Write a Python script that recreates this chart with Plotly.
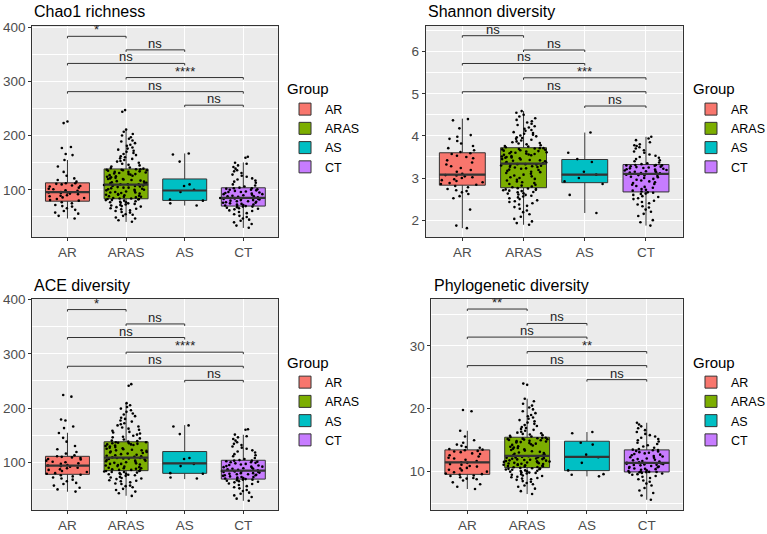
import plotly.graph_objects as go

GROUPS = ["AR", "ARAS", "AS", "CT"]
GROUP_COLORS = ["#F8766D", "#7CAE00", "#00BFC4", "#C77CFF"]
PANEL_TITLES = ["Chao1 richness", "Shannon diversity", "ACE diversity", "Phylogenetic diversity"]
COMPARISONS = [("AR", "ARAS"), ("ARAS", "AS"), ("AR", "AS"), ("ARAS", "CT"), ("AR", "CT"), ("AS", "CT")]

# ---------------- Chao1 ----------------
CHAO1_Q1 = [79, 83.5, 80.4, 70]
CHAO1_MEDIAN = [95.6, 109.7, 98.7, 85.3]
CHAO1_Q3 = [112.8, 138.5, 120, 103.7]
CHAO1_LOW = [47, 40.7, 71, 29.7]
CHAO1_HIGH = [155, 211, 167, 150.5]
CHAO1_SIG = ["*", "ns", "ns", "****", "ns", "ns"]
CHAO1_SIG_Y = [383, 358, 333, 307, 281, 256]
CHAO1_AR = [47, 52, 56, 58, 61, 63, 66, 69, 70, 72, 75, 77, 80, 81, 83, 85, 86, 88, 89, 90, 92, 93, 94, 95, 95,
            96, 98, 99, 101, 102, 104, 106, 107, 108, 110, 111, 112, 112, 115, 118, 121, 126, 133, 143, 155,
            164, 166, 177, 179, 223, 226]
CHAO1_ARAS = [41, 44, 47, 49, 52, 54, 55, 58, 59, 61, 62, 64, 65, 66, 68, 69, 70, 71, 72, 73, 74, 75, 76, 77, 77,
              78, 79, 80, 81, 81, 82, 83, 83, 84, 84, 85, 86, 87, 87, 88, 89, 90, 91, 91, 92, 93, 94, 95, 95, 96,
              97, 98, 99, 100, 100, 101, 102, 103, 104, 104, 105, 106, 107, 107, 108, 109, 109, 110, 110, 110,
              111, 112, 113, 114, 115, 116, 117, 118, 119, 120, 120, 121, 122, 123, 124, 125, 126, 127, 128, 129,
              129, 130, 131, 132, 133, 133, 134, 135, 136, 136, 137, 137, 138, 138, 139, 140, 141, 143, 145, 146,
              148, 150, 152, 153, 155, 157, 158, 160, 162, 164, 166, 168, 170, 172, 174, 176, 178, 181, 183, 186,
              189, 191, 194, 197, 200, 203, 207, 211, 244, 247]
CHAO1_AS = [71, 75, 80, 82, 96, 100, 107, 110, 152, 165, 167]
CHAO1_CT = [30, 34, 37, 40, 43, 45, 47, 50, 52, 55, 57, 59, 61, 62, 64, 65, 66, 67, 68, 69, 69, 70,
            70, 71, 72, 73, 73, 74, 75, 76, 76, 77, 78, 79, 79, 80, 81, 81, 82, 83, 83, 84, 84, 85, 85,
            86, 87, 88, 88, 89, 90, 91, 92, 92, 93, 94, 95, 96, 96, 97, 98, 99, 100, 100, 101, 102, 103, 103,
            104, 106, 108, 110, 113, 115, 117, 119, 121, 124, 126, 128, 131, 134, 136, 139, 142, 145, 148, 150,
            159, 161]

# ---------------- Shannon ----------------
SHANNON_Q1 = [2.83, 2.77, 2.89, 2.67]
SHANNON_MEDIAN = [3.08, 3.34, 3.08, 3.10]
SHANNON_Q3 = [3.60, 3.72, 3.44, 3.32]
SHANNON_LOW = [1.81, 1.89, 2.17, 1.87]
SHANNON_HIGH = [4.41, 4.59, 4.08, 3.98]
SHANNON_SIG = ["ns", "ns", "ns", "***", "ns", "ns"]
SHANNON_SIG_Y = [6.38, 6.04, 5.72, 5.38, 5.05, 4.71]
SHANNON_AR = [1.81, 1.87, 2.25, 2.52, 2.57, 2.62, 2.66, 2.69, 2.71, 2.74, 2.78, 2.81, 2.84, 2.86, 2.88, 2.9,
              2.93, 2.95, 2.97, 3.0, 3.02, 3.04, 3.06, 3.07, 3.1, 3.15, 3.19, 3.24, 3.28, 3.32, 3.37, 3.42,
              3.47, 3.5, 3.53, 3.57, 3.59, 3.62, 3.66, 3.71, 3.76, 3.82, 3.88, 3.93, 3.98, 4.02, 4.18, 4.37, 4.4]
SHANNON_ARAS = [1.89, 1.93, 1.97, 2.03, 2.08, 2.14, 2.19, 2.23, 2.27, 2.31, 2.34, 2.37, 2.4, 2.43, 2.45, 2.47,
                2.5, 2.52, 2.54, 2.56, 2.58, 2.6, 2.61, 2.63, 2.64, 2.66, 2.67, 2.69, 2.7, 2.71, 2.72, 2.73,
                2.74, 2.75, 2.76, 2.78, 2.8, 2.82, 2.84, 2.86, 2.88, 2.9, 2.92, 2.94, 2.96, 2.98, 3.0, 3.02,
                3.04, 3.06, 3.08, 3.1, 3.12, 3.14, 3.15, 3.17, 3.19, 3.2, 3.22, 3.23, 3.25, 3.26, 3.27, 3.28,
                3.29, 3.3, 3.31, 3.32, 3.33, 3.33, 3.35, 3.36, 3.37, 3.38, 3.4, 3.41, 3.42, 3.43, 3.44, 3.45,
                3.47, 3.48, 3.49, 3.5, 3.51, 3.52, 3.54, 3.55, 3.56, 3.57, 3.58, 3.59, 3.6, 3.61, 3.62, 3.63,
                3.64, 3.65, 3.66, 3.67, 3.68, 3.69, 3.7, 3.71, 3.71, 3.73, 3.75, 3.76, 3.78, 3.8, 3.82, 3.83,
                3.85, 3.87, 3.89, 3.91, 3.93, 3.95, 3.97, 3.99, 4.01, 4.03, 4.05, 4.07, 4.09, 4.12, 4.14, 4.17,
                4.2, 4.23, 4.26, 4.29, 4.32, 4.35, 4.38, 4.42, 4.46, 4.5, 4.55, 4.59]
SHANNON_AS = [2.17, 2.6, 2.86, 2.92, 3.0, 3.08, 3.15, 3.38, 3.45, 3.6, 4.08]
SHANNON_CT = [1.87, 1.95, 2.0, 2.1, 2.15, 2.2, 2.25, 2.3, 2.33, 2.37, 2.4, 2.43, 2.46, 2.5, 2.52, 2.55, 2.57,
              2.6, 2.62, 2.63, 2.65, 2.66, 2.68, 2.7, 2.72, 2.74, 2.77, 2.79, 2.81, 2.84, 2.86, 2.88, 2.9, 2.92,
              2.94, 2.96, 2.98, 3.0, 3.02, 3.03, 3.05, 3.06, 3.07, 3.08, 3.09, 3.11, 3.12, 3.13, 3.14, 3.15,
              3.16, 3.17, 3.18, 3.19, 3.2, 3.21, 3.22, 3.23, 3.24, 3.25, 3.26, 3.27, 3.28, 3.29, 3.3, 3.3, 3.31,
              3.31, 3.33, 3.35, 3.37, 3.4, 3.42, 3.45, 3.48, 3.5, 3.53, 3.56, 3.6, 3.63, 3.66, 3.7, 3.73, 3.76,
              3.78, 3.8, 3.85, 3.9, 3.94, 3.98]

# ---------------- ACE ----------------
ACE_Q1 = [77.8, 84.6, 79.6, 69]
ACE_MEDIAN = [94, 108.7, 98, 84.6]
ACE_Q3 = [111, 137.8, 119.8, 103.7]
ACE_LOW = [45.7, 38.3, 69, 29]
ACE_HIGH = [154.4, 208.7, 168.5, 150.7]
ACE_SIG = ["*", "ns", "ns", "****", "ns", "ns"]
ACE_SIG_Y = [381.5, 355, 330, 303, 277, 251]
ACE_AR = [46, 50, 53, 57, 60, 62, 65, 68, 70, 72, 74, 76, 77, 79, 80, 82, 84, 86, 87, 89, 90, 92, 93, 94,
          95, 97, 98, 100, 101, 103, 105, 106, 108, 109, 110, 111, 113, 116, 119, 124, 130, 138, 145, 154,
          163, 166, 177, 179, 221, 224]
ACE_ARAS = [38, 43, 46, 49, 51, 54, 56, 57, 60, 61, 63, 65, 66, 67, 69, 70, 71, 72, 73, 75, 76, 77, 78, 78,
            79, 80, 81, 82, 82, 83, 84, 84, 85, 86, 86, 87, 88, 89, 89, 90, 91, 92, 93, 94, 95, 96, 97, 97, 98,
            99, 100, 101, 102, 103, 103, 104, 105, 106, 107, 107, 108, 108, 109, 110, 111, 112, 113, 114, 115,
            116, 117, 118, 119, 120, 121, 122, 122, 123, 124, 125, 126, 127, 128, 129, 130, 131, 132, 133, 133,
            134, 135, 135, 136, 137, 137, 138, 139, 140, 142, 144, 146, 147, 149, 151, 153, 155, 156, 158, 160,
            162, 164, 166, 168, 170, 172, 175, 177, 180, 182, 185, 188, 190, 193, 196, 199, 202, 205, 209, 241,
            244]
ACE_AS = [70, 72, 79, 80, 93, 97, 106, 108, 152, 166, 168]
ACE_CT = [29, 33, 36, 39, 42, 44, 47, 49, 52, 54, 56, 58, 60, 61, 63, 64, 65, 66, 67, 68, 68, 69,
          69, 70, 71, 72, 73, 73, 74, 75, 76, 76, 77, 78, 78, 79, 80, 80, 81, 82, 82, 83, 83, 84, 84,
          85, 86, 87, 88, 88, 89, 90, 91, 92, 92, 93, 94, 95, 96, 97, 98, 99, 100, 100, 101, 102, 103, 103,
          104, 106, 108, 111, 113, 115, 118, 120, 122, 125, 127, 129, 132, 134, 137, 140, 143, 146, 148, 151,
          160, 161]

# ---------------- Phylogenetic ----------------
PHYLO_Q1 = [9.57, 10.64, 10.16, 9.95]
PHYLO_MEDIAN = [11.48, 12.5, 12.34, 11.39]
PHYLO_Q3 = [13.46, 15.47, 14.84, 13.46]
PHYLO_LOW = [7.24, 6.44, 9.25, 5.53]
PHYLO_HIGH = [16.5, 21.6, 16.3, 17.77]
PHYLO_SIG = ["**", "ns", "ns", "**", "ns", "ns"]
PHYLO_SIG_Y = [35.85, 33.56, 31.39, 29.09, 26.86, 24.63]
PHYLO_AR = [7.24, 7.6, 8.0, 8.3, 8.6, 8.8, 8.9, 9.0, 9.1, 9.3, 9.4, 9.5, 9.6, 9.7, 9.9, 10.0, 10.2, 10.3, 10.5,
            10.6, 10.8, 10.9, 11.1, 11.2, 11.4, 11.5, 11.7, 11.9, 12.1, 12.2, 12.4, 12.6, 12.8, 12.9, 13.1,
            13.2, 13.3, 13.4, 13.5, 13.6, 13.8, 13.9, 14.1, 14.3, 14.6, 15.0, 15.6, 16.5, 19.6, 19.8]
PHYLO_ARAS = [6.44, 6.9, 7.3, 7.6, 7.8, 8.0, 8.2, 8.4, 8.5, 8.7, 8.8, 8.9, 9.0, 9.1, 9.2, 9.3, 9.4, 9.5, 9.6,
              9.7, 9.8, 9.85, 9.9, 10.0, 10.05, 10.1, 10.15, 10.2, 10.3, 10.35, 10.4, 10.45, 10.5, 10.55, 10.6,
              10.7, 10.75, 10.8, 10.85, 10.9, 10.95, 11.0, 11.05, 11.1, 11.15, 11.2, 11.25, 11.3, 11.35, 11.4,
              11.45, 11.5, 11.55, 11.6, 11.65, 11.7, 11.75, 11.8, 11.85, 11.9, 11.95, 12.0, 12.05, 12.1, 12.15,
              12.2, 12.25, 12.3, 12.35, 12.45, 12.55, 12.65, 12.75, 12.85, 12.95, 13.05, 13.15, 13.25, 13.35,
              13.45, 13.55, 13.65, 13.75, 13.85, 13.95, 14.05, 14.15, 14.25, 14.35, 14.45, 14.55, 14.65, 14.7,
              14.8, 14.85, 14.9, 15.0, 15.05, 15.1, 15.15, 15.2, 15.25, 15.3, 15.35, 15.4, 15.5, 15.6, 15.7,
              15.8, 15.9, 16.0, 16.1, 16.2, 16.35, 16.5, 16.65, 16.8, 16.95, 17.1, 17.25, 17.4, 17.6, 17.8,
              18.0, 18.2, 18.4, 18.6, 18.8, 19.0, 19.3, 19.6, 19.9, 20.2, 20.5, 20.8, 21.2, 21.6, 23.8, 24.0]
PHYLO_AS = [9.25, 9.5, 9.6, 10.2, 11.4, 12.3, 12.7, 14.3, 14.6, 16.1, 16.3]
PHYLO_CT = [5.53, 6.2, 6.6, 7.0, 7.4, 7.8, 8.1, 8.4, 8.6, 8.8, 9.0, 9.2, 9.3, 9.5, 9.6, 9.7, 9.8, 9.85, 9.9,
            9.92, 9.94, 9.96, 10.0, 10.1, 10.2, 10.3, 10.4, 10.45, 10.5, 10.6, 10.7, 10.75, 10.8, 10.9, 11.0,
            11.05, 11.1, 11.15, 11.2, 11.25, 11.3, 11.35, 11.38, 11.4, 11.5, 11.6, 11.7, 11.8, 11.9, 12.0,
            12.1, 12.2, 12.3, 12.4, 12.5, 12.6, 12.7, 12.8, 12.9, 13.0, 13.1, 13.2, 13.3, 13.4, 13.45, 13.5,
            13.6, 13.8, 14.0, 14.2, 14.4, 14.6, 14.8, 15.0, 15.2, 15.4, 15.6, 15.8, 16.0, 16.3, 16.6, 16.9,
            17.2, 17.5, 17.77]

PANELS = [
    dict(q1=CHAO1_Q1, med=CHAO1_MEDIAN, q3=CHAO1_Q3, lo=CHAO1_LOW, hi=CHAO1_HIGH,
         pts=[CHAO1_AR, CHAO1_ARAS, CHAO1_AS, CHAO1_CT], sig=CHAO1_SIG, sig_y=CHAO1_SIG_Y,
         yrange=[13, 402], dtick=100, minor=50,
         xdom=[0.0421, 0.3631], ydom=[0.5562, 0.9513], leg=(0.3716, 0.8596), title=(0.042, 0.978)),
    dict(q1=SHANNON_Q1, med=SHANNON_MEDIAN, q3=SHANNON_Q3, lo=SHANNON_LOW, hi=SHANNON_HIGH,
         pts=[SHANNON_AR, SHANNON_ARAS, SHANNON_AS, SHANNON_CT], sig=SHANNON_SIG, sig_y=SHANNON_SIG_Y,
         yrange=[1.6, 6.61], dtick=1, minor=0.5,
         xdom=[0.5549, 0.8901], ydom=[0.5562, 0.9513], leg=(0.9009, 0.8596), title=(0.555, 0.978)),
    dict(q1=ACE_Q1, med=ACE_MEDIAN, q3=ACE_Q3, lo=ACE_LOW, hi=ACE_HIGH,
         pts=[ACE_AR, ACE_ARAS, ACE_AS, ACE_CT], sig=ACE_SIG, sig_y=ACE_SIG_Y,
         yrange=[12, 401], dtick=100, minor=50,
         xdom=[0.0421, 0.3631], ydom=[0.0449, 0.4401], leg=(0.3716, 0.3483), title=(0.042, 0.465)),
    dict(q1=PHYLO_Q1, med=PHYLO_MEDIAN, q3=PHYLO_Q3, lo=PHYLO_LOW, hi=PHYLO_HIGH,
         pts=[PHYLO_AR, PHYLO_ARAS, PHYLO_AS, PHYLO_CT], sig=PHYLO_SIG, sig_y=PHYLO_SIG_Y,
         yrange=[3.9, 37.45], dtick=10, minor=5,
         xdom=[0.5625, 0.8900], ydom=[0.0449, 0.4401], leg=(0.9009, 0.3483), title=(0.563, 0.465)),
]

FONT = "Liberation Sans, Arial, Helvetica, sans-serif"
DARK = "#333333"
BOX_W = 0.75

fig = go.Figure()
shapes = []
annotations = []
layout_axes = {}

for p, (panel, title) in enumerate(zip(PANELS, PANEL_TITLES)):
    n = p + 1
    xa = "x" if n == 1 else f"x{n}"
    ya = "y" if n == 1 else f"y{n}"
    leg = "legend" if n == 1 else f"legend{n}"

    for k, g in enumerate(GROUPS):
        fig.add_trace(go.Box(
            x=[k], q1=[panel["q1"][k]], median=[panel["med"][k]], q3=[panel["q3"][k]],
            lowerfence=[panel["lo"][k]], upperfence=[panel["hi"][k]], orientation="v",
            name=g, fillcolor=GROUP_COLORS[k], line=dict(color=DARK, width=1),
            width=BOX_W, whiskerwidth=0, boxpoints=False, xaxis=xa, yaxis=ya,
            legend=leg, legendgroup=f"{leg}-{g}", showlegend=True, hoverinfo="skip"))
    for k, g in enumerate(GROUPS):
        fig.add_trace(go.Scatter(
            x=[k - BOX_W / 2, k + BOX_W / 2], y=[panel["med"][k]] * 2, mode="lines",
            line=dict(color=DARK, width=2.2), xaxis=xa, yaxis=ya, showlegend=False,
            hoverinfo="skip", legend=leg))
    for k, g in enumerate(GROUPS):
        vals = panel["pts"][k]
        fig.add_trace(go.Box(
            x=[k] * len(vals), y=vals, boxpoints="all", jitter=1, pointpos=0, width=0.8,
            fillcolor="rgba(0,0,0,0)", line=dict(width=0, color="rgba(0,0,0,0)"),
            marker=dict(color="black", size=2.6, line=dict(width=0)), xaxis=xa, yaxis=ya,
            showlegend=False, hoverinfo="skip", legend=leg))

    span = panel["yrange"][1] - panel["yrange"][0]
    tip = 0.0095 * span
    for (a, b), lab, yy in zip(COMPARISONS, panel["sig"], panel["sig_y"]):
        i1, i2 = GROUPS.index(a), GROUPS.index(b)
        shapes.append(dict(type="path", xref=xa, yref=ya,
                           path=f"M {i1},{yy - tip} L {i1},{yy} L {i2},{yy} L {i2},{yy - tip}",
                           line=dict(color=DARK, width=1)))
        annotations.append(dict(x=(i1 + i2) / 2, y=yy, xref=xa, yref=ya, text=lab, showarrow=False,
                                yanchor="bottom", yshift=-3, font=dict(size=13, color="#222222", family=FONT)))

    annotations.append(dict(x=panel["title"][0], y=panel["title"][1], xref="paper", yref="paper",
                            text=title, showarrow=False, xanchor="left", yanchor="middle",
                            font=dict(size=16, color="black", family=FONT)))

    axis_common = dict(showline=True, mirror=True, linecolor=DARK, linewidth=1, ticks="outside",
                       ticklen=3, tickwidth=1, tickcolor=DARK, zeroline=False, showgrid=True,
                       gridcolor="white", gridwidth=1.1,
                       tickfont=dict(size=13.5, color="#4D4D4D", family=FONT))
    layout_axes["xaxis" if n == 1 else f"xaxis{n}"] = dict(
        domain=panel["xdom"], range=[-0.6, 3.6], tickvals=[0, 1, 2, 3], ticktext=GROUPS,
        anchor=ya, **axis_common)
    layout_axes["yaxis" if n == 1 else f"yaxis{n}"] = dict(
        domain=panel["ydom"], range=panel["yrange"], dtick=panel["dtick"], tick0=0, anchor=xa,
        minor=dict(dtick=panel["minor"], tick0=0, showgrid=True, gridcolor="white", gridwidth=0.5),
        **axis_common)
    layout_axes[leg] = dict(x=panel["leg"][0], y=panel["leg"][1], xanchor="left", yanchor="top",
                            bgcolor="rgba(0,0,0,0)", borderwidth=0, tracegroupgap=0,
                            title=dict(text="Group", font=dict(size=15, color="black", family=FONT)),
                            font=dict(size=12.5, color="black", family=FONT))

fig.update_layout(
    width=767, height=534, margin=dict(l=0, r=0, t=0, b=0, autoexpand=False),
    paper_bgcolor="white", plot_bgcolor="#EBEBEB", boxmode="overlay", hovermode=False,
    shapes=shapes, annotations=annotations, font=dict(family=FONT), **layout_axes)

fig.write_html("out.html", config={"displayModeBar": False},
               post_script="document.body.style.margin='0';document.body.style.padding='0';")
